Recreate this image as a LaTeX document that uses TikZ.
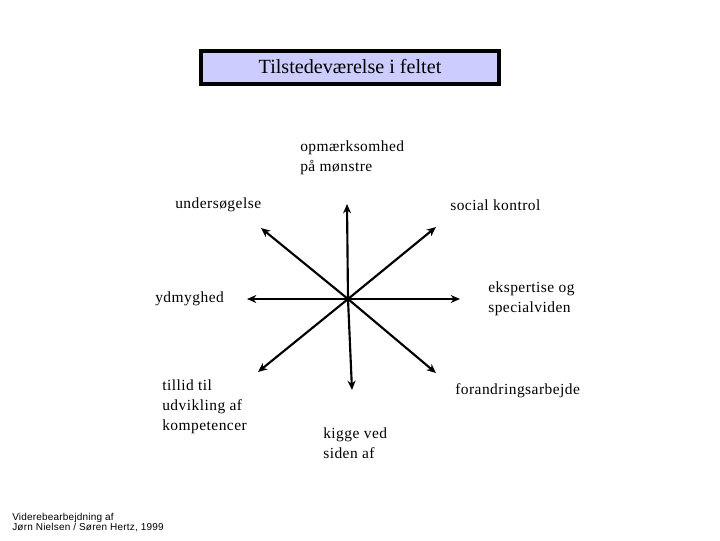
\documentclass[tikz,border=0pt]{standalone}
\usepackage{fontspec}
\setmainfont{Liberation Serif}
\newfontfamily\lblfont[LetterSpace=3]{Liberation Serif}
\newfontfamily\footfont[LetterSpace=2]{Liberation Sans}
\usetikzlibrary{arrows.meta}
\definecolor{titlefill}{HTML}{CCCCFF}
\tikzset{
  lbl/.style={anchor=west, inner sep=0pt, align=left, font=\lblfont\fontsize{11.6}{15}\selectfont},
  arr/.style={line width=1.6pt, -{Stealth[length=7pt,width=6pt]}},
}
\begin{document}
\begin{tikzpicture}[x=0.75pt,y=-0.75pt]
\useasboundingbox (0,0) rectangle (720,540);
\node[draw=black, line width=3pt, fill=titlefill, minimum width=298*0.75pt, minimum height=33*0.75pt, inner sep=0pt, font=\fontsize{15.1}{17}\selectfont] (title) at (350,67) {Tilstedeværelse i feltet};

\coordinate (c) at (348,299);
\coordinate (n) at (347,204);
\coordinate (s) at (352,390);
\coordinate (w) at (247,299);
\coordinate (e) at (460,299);
\coordinate (nw) at (261,228);
\coordinate (ne) at (436,227);
\coordinate (sw) at (258,372);
\coordinate (se) at (436,373);
\foreach \t in {n,s,w,e,nw,ne,sw,se} \draw[arr] (c) -- (\t);

\node[lbl] (l1) at (300,158) {opmærksomhed\\på mønstre};
\node[lbl] (l2) at (175,205) {undersøgelse};
\node[lbl] (l3) at (450,205) {social kontrol};
\node[lbl] (l4) at (155,299) {ydmyghed};
\node[lbl] (l5) at (488,298.5) {ekspertise og\\specialviden};
\node[lbl] (l6) at (162,407) {tillid til\\udvikling af\\kompetencer};
\node[lbl] (l7) at (455,391) {forandringsarbejde};
\node[lbl] (l8) at (323,443) {kigge ved\\siden af};
\node[anchor=west, inner sep=0pt, align=left, font=\footfont\fontsize{7.5}{7.5}\selectfont] (foot) at (12,523) {Viderebearbejdning af\\Jørn Nielsen / Søren Hertz, 1999};
\end{tikzpicture}
\end{document}
